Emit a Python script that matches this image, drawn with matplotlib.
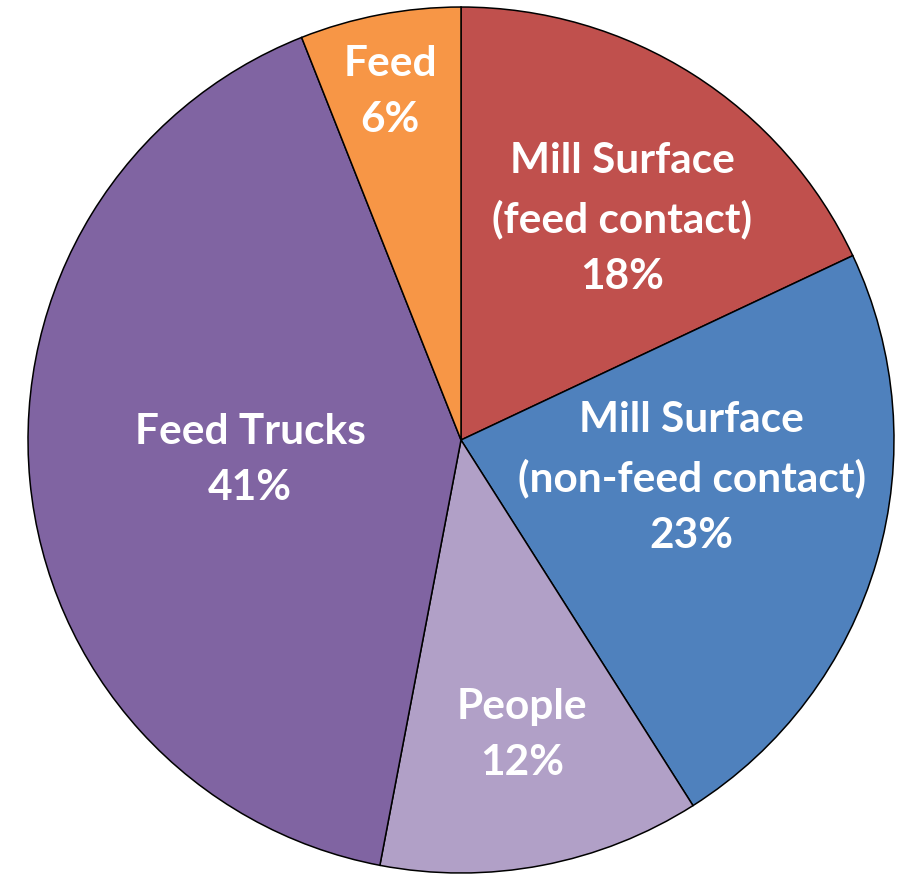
import matplotlib
matplotlib.use("Agg")
import matplotlib.pyplot as plt
import numpy as np

labels = ["Mill Surface\n(feed contact)", "Mill Surface\n(non-feed contact)", "People", "Feed Trucks", "Feed"]
values = [18, 23, 12, 41, 6]
colors = ["#C0504D", "#4F81BD", "#B1A0C7", "#8064A2", "#F79646"]
# label placement (x, y) in units of the pie radius
label_pos = [(0.372, 0.510), (0.533, -0.088), (0.141, -0.681), (-0.487, -0.046), (-0.164, 0.804)]

fig = plt.figure(figsize=(9.03, 8.75), dpi=100)
ax = fig.add_axes([0, 0, 1, 1])
ax.pie(values, colors=colors, startangle=90, counterclock=False,
       radius=1.0, wedgeprops=dict(edgecolor="black", linewidth=1.1))
for lab, v, (x, y) in zip(labels, values, label_pos):
    ax.text(x, y, f"{lab}\n{v}%", ha="center", va="center", color="white",
            fontsize=30.5, fontweight="bold", family="Lato", linespacing=1.6)
ax.set_xlim(-1.0647, 1.0208)
ax.set_ylim(-1.0046, 1.0162)
ax.set_aspect("equal")
ax.axis("off")
fig.savefig("out.png", dpi=100)
